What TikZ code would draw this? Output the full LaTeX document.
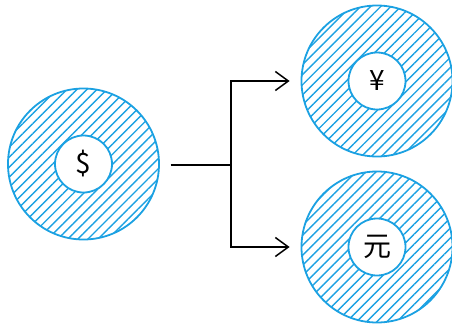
\documentclass[tikz,border=0pt]{standalone}
\usepackage{fontspec}
\setmainfont{Noto Sans CJK SC}
\usetikzlibrary{patterns.meta,arrows.meta}
\definecolor{bleu}{RGB}{27,161,226}
\begin{document}
\begin{tikzpicture}[x=1pt,y=-1pt]
			% Styles
			\tikzstyle{fleche}=[-,line width=1.5pt,black]
			\tikzstyle{pointe}=[-{Straight Barb[length=13pt,width=19pt,line width=1.5pt]}]
			\tikzstyle{monnaie}=[circle,draw=bleu,line width=1.8pt,minimum size=151pt,inner sep=0pt,
				pattern={Lines[angle=45,distance=7.1pt,line width=1.4pt]},pattern color=bleu]
			\tikzstyle{symbole}=[circle,draw=bleu,line width=1.8pt,fill=white,minimum size=57pt,inner sep=0pt,font=\fontsize{28}{28}\selectfont]
			% Dimensions
			\def\ColonneA{83.5}
			\def\ColonneB{377}
			\def\Jonction{231}
			\useasboundingbox (0,0) rectangle (452,327);
			% Noeuds
			\node[monnaie] (dollar) at (\ColonneA,164) {};
			\node[symbole] (Sdollar) at (dollar.center) {\$};
			\node[monnaie] (yen) at (\ColonneB,81) {};
			\node[symbole] (Syen) at (yen.center) {¥};
			\node[monnaie] (yuan) at (\ColonneB,247) {};
			\node[symbole] (Syuan) at (yuan.center) {元};
			\coordinate (J) at (\Jonction,165);
			% Arcs
			\draw[fleche,shorten <=11pt] (dollar.east |- J) -- (J);
			\draw[fleche,pointe,shorten >=11pt] (J) |- (yen.west);
			\draw[fleche,pointe,shorten >=11pt] (J) |- (yuan.west);
\end{tikzpicture}
\end{document}
